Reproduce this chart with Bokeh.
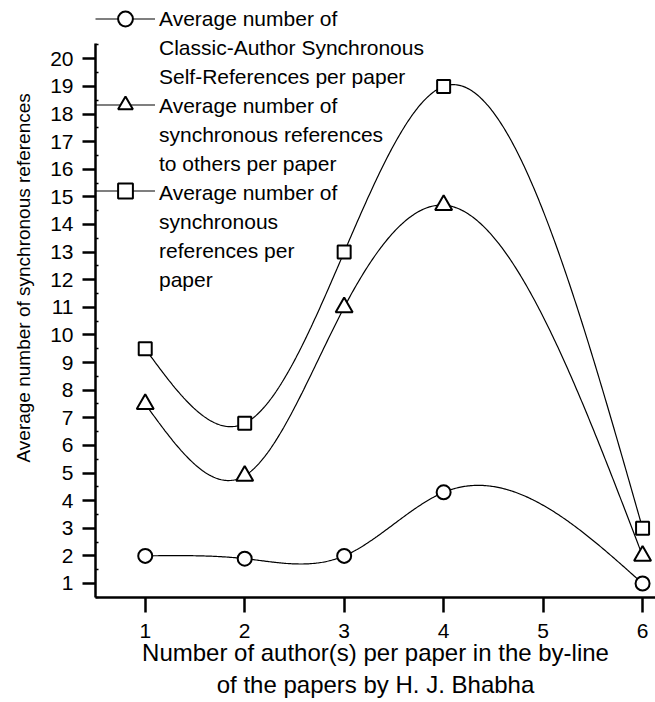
import numpy as np
from bokeh.plotting import figure
from bokeh.models import Range1d, Legend, LegendItem, FixedTicker, Title
from bokeh.core.properties import value
from bokeh.embed import file_html
from bokeh.resources import INLINE

# ---- data ----
authors = [1, 2, 3, 4, 6]
self_refs = [2.0, 1.9, 2.0, 4.3, 1.0]
others_refs = [7.5, 4.9, 11.0, 14.7, 2.0]
total_refs = [9.5, 6.8, 13.0, 19.0, 3.0]

x_ticks = [1, 2, 3, 4, 5, 6]
y_ticks = list(range(1, 21))

legend_self = ["Average number of", "Classic-Author Synchronous", "Self-References per paper"]
legend_others = ["Average number of", "synchronous references", "to others per paper"]
legend_total = ["Average number of", "synchronous", "references per", "paper"]

x_title = ["Number of author(s) per paper in the by-line", "of the papers by H. J. Bhabha"]
y_title = "Average number of synchronous references"

FONT = "Liberation Sans"


def natural_spline(xs, ys, n=400):
    """Smooth connecting curve (natural cubic spline) through the data points."""
    x = np.asarray(xs, float)
    y = np.asarray(ys, float)
    k = len(x)
    h = np.diff(x)
    A = np.zeros((k, k))
    b = np.zeros(k)
    A[0, 0] = A[-1, -1] = 1.0
    for i in range(1, k - 1):
        A[i, i - 1] = h[i - 1]
        A[i, i] = 2 * (h[i - 1] + h[i])
        A[i, i + 1] = h[i]
        b[i] = 6 * ((y[i + 1] - y[i]) / h[i] - (y[i] - y[i - 1]) / h[i - 1])
    M = np.linalg.solve(A, b)
    xx = np.linspace(x[0], x[-1], n)
    idx = np.clip(np.searchsorted(x, xx, side="right") - 1, 0, k - 2)
    x0 = x[idx]
    x1 = x[idx + 1]
    hh = x1 - x0
    t0 = x1 - xx
    t1 = xx - x0
    yy = (M[idx] * t0 ** 3 / (6 * hh) + M[idx + 1] * t1 ** 3 / (6 * hh)
          + (y[idx] / hh - M[idx] * hh / 6) * t0 + (y[idx + 1] / hh - M[idx + 1] * hh / 6) * t1)
    return xx, yy


p = figure(width=655, height=702,
           x_range=Range1d(0.5, 6.13), y_range=Range1d(0.493, 22.11),
           output_backend="svg", toolbar_location=None,
           min_border_left=94, min_border_right=0, min_border_top=0, min_border_bottom=105)
p.outline_line_color = None
p.grid.visible = False
p.background_fill_color = "white"
p.border_fill_color = "white"

# axes
xa = p.xaxis[0]
xa.ticker = FixedTicker(ticks=x_ticks)
xa.bounds = (0.5, 6.13)
ya = p.yaxis[0]
ya.ticker = FixedTicker(ticks=y_ticks, minor_ticks=[t + 0.5 for t in [0] + y_ticks])
ya.bounds = (0.493, 20.55)
for ax in (xa, ya):
    ax.axis_line_width = 2.5
    ax.axis_line_color = "black"
    ax.major_tick_line_width = 2.5
    ax.major_tick_line_color = "black"
    ax.major_tick_in = 0
    ax.major_label_text_font = FONT
    ax.major_label_text_font_size = "21px"
    ax.major_label_text_color = "black"
    ax.axis_label_text_font = FONT
    ax.axis_label_text_font_style = "normal"
    ax.axis_label_text_color = "black"
xa.major_tick_out = 15
xa.minor_tick_line_color = None
xa.major_label_standoff = 11
xa.axis_label = "\n".join(x_title)
xa.axis_label_text_font_size = "24px"
xa.axis_label_standoff = -2
ya.major_tick_out = 13
ya.minor_tick_in = 3
ya.minor_tick_out = 0
ya.minor_tick_line_width = 1.5
ya.minor_tick_line_color = "black"
ya.major_label_standoff = 9

# y-axis title, placed beside the axis as in the reference
p.add_layout(Title(text=y_title, align="left", offset=135, standoff=24, vertical_align="top",
                   text_font=FONT, text_font_size="19px", text_font_style="normal",
                   text_color="black"), "left")

# series
series = [
    (self_refs, "circle", 14),
    (others_refs, "triangle", 17),
    (total_refs, "square", 13),
]
renderers = []
for ys, marker, size in series:
    sx, sy = natural_spline(authors, ys)
    lr = p.line(sx, sy, line_color="black", line_width=1.2)
    sr = p.scatter(authors, ys, marker=marker, size=size, fill_color="white",
                   line_color="black", line_width=2)
    renderers.append([lr, sr])

# invisible renderer used for the text-only legend rows
blank = p.line([], [], line_alpha=0)

# legend text: one row per line of each (wrapped) label
text_items = []
for lines in [legend_self, legend_others, legend_total]:
    for line in lines:
        text_items.append(LegendItem(label=value(line), renderers=[blank]))

legend_text = Legend(items=text_items, location="top_left", margin=4, padding=9, spacing=0,
                     glyph_width=54, glyph_height=29, label_height=20, label_standoff=6,
                     border_line_color=None, background_fill_alpha=0,
                     label_text_font=FONT, label_text_font_size="21px", label_text_color="black")
p.add_layout(legend_text)

# legend symbols, one per series, aligned with the first line of each label
symbol_items = [LegendItem(label=value(""), renderers=rs) for rs in renderers]
legend_symbols = Legend(items=symbol_items, location="top_left", margin=0, padding=0,
                        spacing=49, glyph_width=60, glyph_height=37, label_height=20,
                        label_standoff=0, border_line_color=None, background_fill_alpha=0,
                        label_text_font=FONT, label_text_font_size="21px")
p.add_layout(legend_symbols)

open("out.html", "w").write(file_html(p, INLINE))
